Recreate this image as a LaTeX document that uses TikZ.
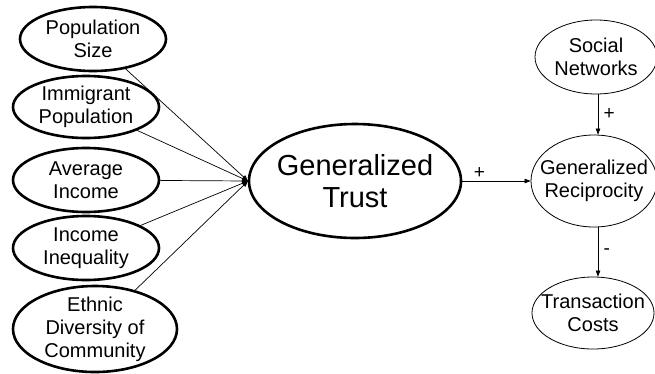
\documentclass[tikz,border=0pt]{standalone}
\usepackage{fontspec}
\setmainfont{Liberation Sans}
\usetikzlibrary{shapes.geometric,arrows.meta}
\begin{document}
\begin{tikzpicture}[x=1pt,y=-1pt,
  cause/.style={ellipse, draw, line width=2.6pt, inner sep=-10pt, align=center, font=\fontsize{20}{23}\selectfont},
  effect/.style={ellipse, draw, line width=0.8pt, inner sep=-10pt, align=center, font=\fontsize{20}{23}\selectfont},
  link/.style={line width=0.7pt, -{Triangle[length=6pt,width=4.5pt]}},
  sign/.style={font=\fontsize{19}{21}\selectfont}]
\useasboundingbox (0,0) rectangle (655,373);
% left side: causes of trust
\node[cause, minimum width=146, minimum height=64] (pop) at (93,39) {Population\\Size};
\node[cause, minimum width=146, minimum height=62] (imm) at (86,107) {Immigrant\\Population};
\node[cause, minimum width=146, minimum height=64] (inc) at (86,180) {Average\\Income};
\node[cause, minimum width=146, minimum height=64] (ineq) at (86,248) {Income\\Inequality};
\node[cause, minimum width=164, minimum height=86] (eth) at (95,329) {Ethnic\\Diversity of\\Community};
\coordinate (conv) at (248,181);
\draw[link] (pop) -- (conv);
\draw[link] (imm) -- (conv);
\draw[link] (inc) -- (conv);
\draw[link] (ineq) -- (conv);
\draw[link] (eth) -- (conv);
% centre
\node[cause, minimum width=212, minimum height=114, font=\fontsize{29}{32}\selectfont] (trust) at (355,181) {Generalized\\Trust};
% right side
\node[effect, minimum width=122, minimum height=74] (soc) at (596,57) {Social\\Networks};
\node[effect, minimum width=126, minimum height=92] (recip) at (594,181) {Generalized\\Reciprocity};
\node[effect, minimum width=122, minimum height=72] (cost) at (593,313) {Transaction\\Costs};
\draw[link] (trust) -- (recip) node[sign, pos=0.25, above=-1pt] {+};
\draw[link] (soc.south -| 598,0) -- (recip.north -| 598,0) node[sign, midway, right=2pt] {+};
\draw[link] (recip.south -| 598,0) -- (cost.north -| 598,0) node[sign, midway, right=2pt] {-};
\end{tikzpicture}
\end{document}
